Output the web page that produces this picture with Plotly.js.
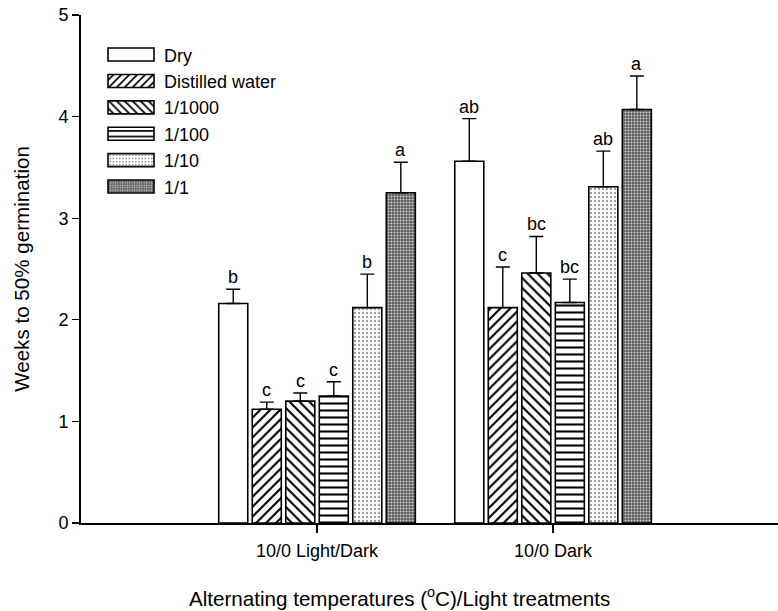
<!DOCTYPE html>
<html>
<head>
<meta charset="utf-8">
<script src="https://cdn.plot.ly/plotly-3.0.1.min.js"></script>
<style>
  html, body { margin: 0; padding: 0; background: #fff; }
  #chart { width: 778px; height: 611px; }
</style>
</head>
<body>
<div id="chart"></div>
<script>
// Light / temperature treatments on the x axis
const categories = ['10/0 Light/Dark', '10/0 Dark'];

// Soaking treatments (legend order)
const treatments = ['Dry', 'Distilled water', '1/1000', '1/100', '1/10', '1/1'];

// Mean weeks to 50% germination, one value per category
const dryWeeks       = [2.16, 3.56];
const distilledWeeks = [1.12, 2.12];
const d1000Weeks     = [1.20, 2.46];
const d100Weeks      = [1.25, 2.17];
const d10Weeks       = [2.12, 3.31];
const d1Weeks        = [3.25, 4.07];

// Standard errors (drawn upward only)
const dryErr       = [0.14, 0.42];
const distilledErr = [0.07, 0.40];
const d1000Err     = [0.08, 0.36];
const d100Err      = [0.14, 0.23];
const d10Err       = [0.33, 0.35];
const d1Err        = [0.30, 0.33];

// Mean separation letters
const dryLetters       = ['b', 'ab'];
const distilledLetters = ['c', 'c'];
const d1000Letters     = ['c', 'bc'];
const d100Letters      = ['c', 'bc'];
const d10Letters       = ['b', 'ab'];
const d1Letters        = ['a', 'a'];

const yTicks = [0, 1, 2, 3, 4, 5];

const FONT = 'Liberation Sans, Arial, Helvetica, sans-serif';

const series = [
  { values: dryWeeks,       err: dryErr,       letters: dryLetters },
  { values: distilledWeeks, err: distilledErr, letters: distilledLetters },
  { values: d1000Weeks,     err: d1000Err,     letters: d1000Letters },
  { values: d100Weeks,      err: d100Err,      letters: d100Letters },
  { values: d10Weeks,       err: d10Err,       letters: d10Letters },
  { values: d1Weeks,        err: d1Err,        letters: d1Letters }
];

// Fill styles: plain, hatches, stripes, light dots, dark stipple
const fills = [
  { shape: '',   fg: '#000', bg: '#fff', size: 8, solidity: 0.3 },
  { shape: '/',  fg: '#000', bg: '#fff', size: 7, solidity: 0.3 },
  { shape: '\\', fg: '#000', bg: '#fff', size: 7, solidity: 0.3 },
  { shape: '-',  fg: '#000', bg: '#fff', size: 7, solidity: 0.3 },
  { shape: '.',  fg: '#9a9a9a', bg: '#fff', size: 4, solidity: 0.25 },
  { shape: '.',  fg: '#cfcfcf', bg: '#5c5c5c', size: 3, solidity: 0.35 }
];

const bargap = 0.148;
const bargroupgap = 0.134;

const traces = series.map((s, i) => ({
  type: 'bar',
  name: treatments[i],
  x: categories,
  y: s.values,
  marker: {
    color: fills[i].bg,
    line: { color: '#000', width: 1.6 },
    pattern: {
      shape: fills[i].shape,
      fgcolor: fills[i].fg,
      bgcolor: fills[i].bg,
      size: fills[i].size,
      solidity: fills[i].solidity,
      fillmode: 'replace'
    }
  },
  error_y: {
    type: 'data',
    symmetric: false,
    array: s.err,
    arrayminus: s.err.map(() => 0),
    color: '#000',
    thickness: 1.4,
    width: 7
  },
  hoverinfo: 'skip'
}));

// Letters above each error bar, placed at the centre of its bar slot
const slot = (1 - bargap) / series.length;
const annotations = [];
series.forEach((s, i) => {
  s.values.forEach((v, j) => {
    annotations.push({
      xref: 'x', yref: 'y',
      x: j - (1 - bargap) / 2 + (i + 0.5) * slot,
      y: v + s.err[j],
      text: s.letters[j],
      showarrow: false,
      xanchor: 'center', yanchor: 'bottom',
      yshift: 0,
      font: { family: FONT, size: 18, color: '#000' }
    });
  });
});

// x-axis title
annotations.push({
  xref: 'paper', yref: 'paper',
  x: 0.4563, y: -0.146,
  xanchor: 'center', yanchor: 'middle',
  text: 'Alternating temperatures (<sup>o</sup>C)/Light treatments',
  showarrow: false,
  font: { family: FONT, size: 20.6, color: '#000' }
});

const layout = {
  width: 778,
  height: 611,
  margin: { l: 81, r: 0, t: 15, b: 88 },
  paper_bgcolor: '#fff',
  plot_bgcolor: '#fff',
  font: { family: FONT, size: 18, color: '#000' },
  barmode: 'group',
  bargap: bargap,
  bargroupgap: bargroupgap,
  showlegend: true,
  legend: {
    x: 0.0244, y: 0.958,
    xanchor: 'left', yanchor: 'top',
    bgcolor: 'rgba(0,0,0,0)',
    borderwidth: 0,
    itemwidth: 56,
    font: { family: FONT, size: 18, color: '#000' },
    traceorder: 'normal'
  },
  xaxis: {
    type: 'category',
    range: [-1, 1.953],
    showline: true, linecolor: '#000', linewidth: 1.8,
    ticks: 'outside', ticklen: 8, tickwidth: 1.4, tickcolor: '#000',
    ticklabelstandoff: 3,
    showgrid: false, zeroline: false,
    tickfont: { family: FONT, size: 18, color: '#000' },
    fixedrange: true
  },
  yaxis: {
    range: [0, 5],
    tickvals: yTicks,
    ticktext: yTicks.map(String),
    showline: true, linecolor: '#000', linewidth: 1.8,
    ticks: 'outside', ticklen: 7, tickwidth: 1.4, tickcolor: '#000',
    showgrid: false, zeroline: false,
    tickfont: { family: FONT, size: 18, color: '#000' },
    title: { text: 'Weeks to 50% germination', font: { family: FONT, size: 20.6, color: '#000' } },
    fixedrange: true
  },
  annotations: annotations
};

Plotly.newPlot('chart', traces, layout, { displayModeBar: false, staticPlot: true }).then(gd => {
  // widen the legend swatches into long rectangles
  gd.querySelectorAll('.legend g.legendpoints path').forEach(p => {
    p.setAttribute('d', 'M23,6.5H-23V-6.5H23Z');
    p.style.strokeWidth = '1.6px';
  });
});
</script>
</body>
</html>
